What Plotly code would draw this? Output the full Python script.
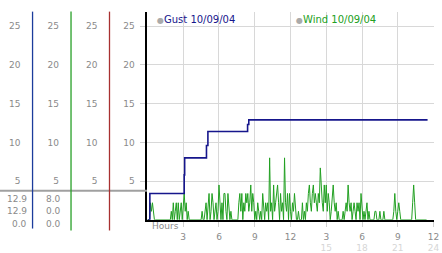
import plotly.graph_objects as go

# ---------------- data ----------------
gust_hours = [0.0, 0.12, 0.2, 3.08, 3.12, 4.95, 5.07, 8.4, 8.5, 23.5]
gust_vals = [0.0, 0.0, 3.4, 5.8, 8.0, 9.6, 11.4, 12.3, 12.9, 12.9]

# wind samples every 5 minutes (hour = i/12), one row per hour
wind_vals = [
    0, 0, 0, 2.2, 1.1, 2.2, 1.1, 0, 0, 0, 0, 0,
    0, 0, 0, 0, 0, 0, 0, 0, 0, 0, 0, 0,
    1.1, 0, 2.2, 0, 1.1, 2.2, 0, 2.2, 0, 1.1, 2.2, 0,
    2.2, 3.4, 1.1, 2.2, 0, 1.1, 0, 0, 0, 0, 0, 0,
    0, 0, 0, 0, 0, 0, 0, 1.1, 0, 0, 1.1, 2.2,
    0, 2.2, 3.4, 0, 1.1, 3.4, 2.2, 0, 1.1, 2.2, 0, 1.1,
    4.5, 1.1, 0, 2.2, 0, 3.4, 3.4, 1.1, 0, 3.4, 1.1, 0,
    1.1, 0, 0, 0, 0, 0, 0, 0, 2.2, 3.4, 1.1, 3.4,
    0, 2.2, 1.1, 3.4, 2.2, 3.4, 1.1, 2.2, 4.5, 1.1, 3.4, 2.2,
    0, 1.1, 0, 2.2, 1.1, 0, 1.1, 0, 3.4, 1.1, 0, 2.2,
    1.1, 2.2, 0, 8.0, 1.1, 2.2, 0, 4.5, 1.1, 2.2, 3.4, 4.5,
    2.2, 0, 3.4, 1.1, 2.2, 0, 8.0, 2.2, 1.1, 3.4, 0, 3.4,
    1.1, 0, 2.2, 1.1, 3.4, 1.1, 0, 0, 1.1, 0, 0, 0,
    2.2, 0, 1.1, 0, 2.2, 1.1, 3.4, 4.5, 2.2, 1.1, 3.4, 4.5,
    2.2, 3.4, 2.2, 1.1, 3.4, 2.2, 6.7, 3.4, 2.2, 1.1, 4.5, 2.2,
    4.5, 1.1, 3.4, 2.2, 0, 1.1, 3.4, 4.5, 2.2, 1.1, 2.2, 0,
    1.1, 0, 0, 0, 0, 1.1, 0, 1.1, 2.2, 1.1, 4.5, 2.2,
    1.1, 2.2, 0, 1.1, 2.2, 1.1, 0, 2.2, 1.1, 2.2, 0, 3.4,
    1.1, 0, 1.1, 0, 1.1, 2.2, 0, 1.1, 0, 0, 0, 0,
    0, 1.1, 1.1, 0, 0, 0, 1.1, 0, 0, 0, 1.1, 0,
    0, 0, 0, 0, 0, 0, 0, 0, 1.1, 3.4, 1.1, 0,
    1.1, 2.2, 1.1, 0, 0, 0, 0, 0, 0, 0, 0, 0,
    0, 0, 0, 2.2, 4.5, 2.2, 0, 0, 0, 0, 0, 0,
    0, 0, 0, 0, 0, 0,
]
wind_hours = [i / 12 for i in range(len(wind_vals))]

y_ticks = [5, 10, 15, 20, 25]
x_ticks = [3, 6, 9, 12, 15, 18, 21, 24]
x_tick_top = ["3", "6", "9", "12", "3", "6", "9", "12"]
date_label = "10/09/04"

# ---------------- geometry helpers (paper = whole figure) ----------------
W_PX, H_PX = 442, 253
L, R = 149.5, 439.5
T, B = 12.0, 227.0
Y_MAX = (B - T) / 8.0  # 8 px per unit


def px(x):
    return x / W_PX


def py(y):
    return (H_PX - y) / H_PX


FONT = "DejaVu Sans"
GRAY = "#8a8a8a"
LIGHT = "#cfcfcf"
NAVY = "#16168c"
GREEN = "#22a022"

fig = go.Figure()
fig.add_trace(go.Scatter(x=wind_hours, y=wind_vals, mode="lines",
                         line=dict(color=GREEN, width=1), showlegend=False))
fig.add_trace(go.Scatter(x=gust_hours, y=gust_vals, mode="lines", line_shape="hv",
                         line=dict(color=NAVY, width=1.6), showlegend=False))

# dummy traces for the left readout axes
for ax in ["y2", "y3", "y4"]:
    fig.add_trace(go.Scatter(x=[None], y=[None], yaxis=ax, showlegend=False,
                             hoverinfo="skip"))

ticktext_x = []
for v, t in zip(x_ticks, x_tick_top):
    if v > 12:
        ticktext_x.append(f"{t}<br><span style='color:#d6d6d6'>{v}</span>")
    else:
        ticktext_x.append(f"{t}<br> ")

fig.update_layout(
    width=W_PX, height=H_PX,
    margin=dict(l=0, r=0, t=0, b=0, pad=0),
    paper_bgcolor="white", plot_bgcolor="white",
    font=dict(family=FONT, size=9, color=GRAY),
    xaxis=dict(domain=[px(L), px(R)], range=[0, 24], tickvals=x_ticks, ticktext=ticktext_x,
               showgrid=True, gridcolor="#d8d8d8", gridwidth=1,
               showline=True, linecolor="black", linewidth=2,
               ticks="outside", ticklen=5, tickcolor=LIGHT, tickwidth=1,
               ticklabeloverflow="allow", ticklabelstandoff=2,
               zeroline=False, tickfont=dict(size=9, color=GRAY)),
    yaxis=dict(domain=[py(B), py(T)], range=[0, Y_MAX], tickvals=y_ticks,
               showgrid=True, gridcolor="#d8d8d8", gridwidth=1,
               showline=True, linecolor="black", linewidth=2,
               ticks="outside", ticklen=5, tickcolor=LIGHT, tickwidth=1,
               zeroline=False, tickfont=dict(size=9, color=GRAY),
               ticklabelstandoff=4),
)

col_lines = [(33, "#1c3c9c", 236), (72, "#28a028", 238), (111, "#a83030", 238)]
for name, (xpos, _, _) in zip(["yaxis2", "yaxis3", "yaxis4"], col_lines):
    fig.layout[name] = dict(overlaying="y", anchor="free", position=px(xpos),
                            side="left", range=[0, Y_MAX], tickvals=y_ticks,
                            showgrid=False, showline=False, zeroline=False,
                            ticks="", ticklabelstandoff=12,
                            tickfont=dict(size=9, color=GRAY))

shapes = []
# gray separator line
shapes.append(dict(type="line", xref="paper", yref="paper", x0=px(0), x1=px(149),
                   y0=py(197), y1=py(197), line=dict(color="#a0a0a0", width=2)))
for xpos, col, yend in col_lines:
    shapes.append(dict(type="line", xref="paper", yref="paper", x0=px(xpos), x1=px(xpos),
                       y0=py(12), y1=py(yend), line=dict(color=col, width=1.3)))
fig.update_layout(shapes=shapes)

ann = []
# legend
ann.append(dict(xref="paper", yref="paper", x=px(157), y=py(20), xanchor="left",
                yanchor="middle", showarrow=False,
                text=f"<span style='color:#aaaaaa;font-size:8px'>●</span><span style='color:{NAVY}'>Gust {date_label}</span>",
                font=dict(size=10)))
ann.append(dict(xref="paper", yref="paper", x=px(298), y=py(20), xanchor="left",
                yanchor="middle", showarrow=False,
                text=f"<span style='color:#aaaaaa;font-size:8px'>●</span><span style='color:{GREEN}'>Wind {date_label}</span>",
                font=dict(size=10)))
# Hours label
ann.append(dict(xref="paper", yref="paper", x=px(152), y=py(233), xanchor="left",
                yanchor="middle", showarrow=False, text="Hours",
                font=dict(size=9, color=GRAY)))
# readouts: max, current, min
gust_read = [max(gust_vals), gust_vals[-1], min(gust_vals)]
wind_read = [max(wind_vals), wind_vals[-1], min(wind_vals)]
for vals, xr in [(gust_read, 29.5), (wind_read, 64)]:
    for v, yy in zip(vals, [205, 218, 231]):
        ann.append(dict(xref="paper", yref="paper", x=px(xr), y=py(yy), xanchor="right",
                        yanchor="middle", showarrow=False, text=f"{v:.1f}",
                        font=dict(size=9, color=GRAY)))
fig.update_layout(annotations=ann)

fig.write_html("out.html")
